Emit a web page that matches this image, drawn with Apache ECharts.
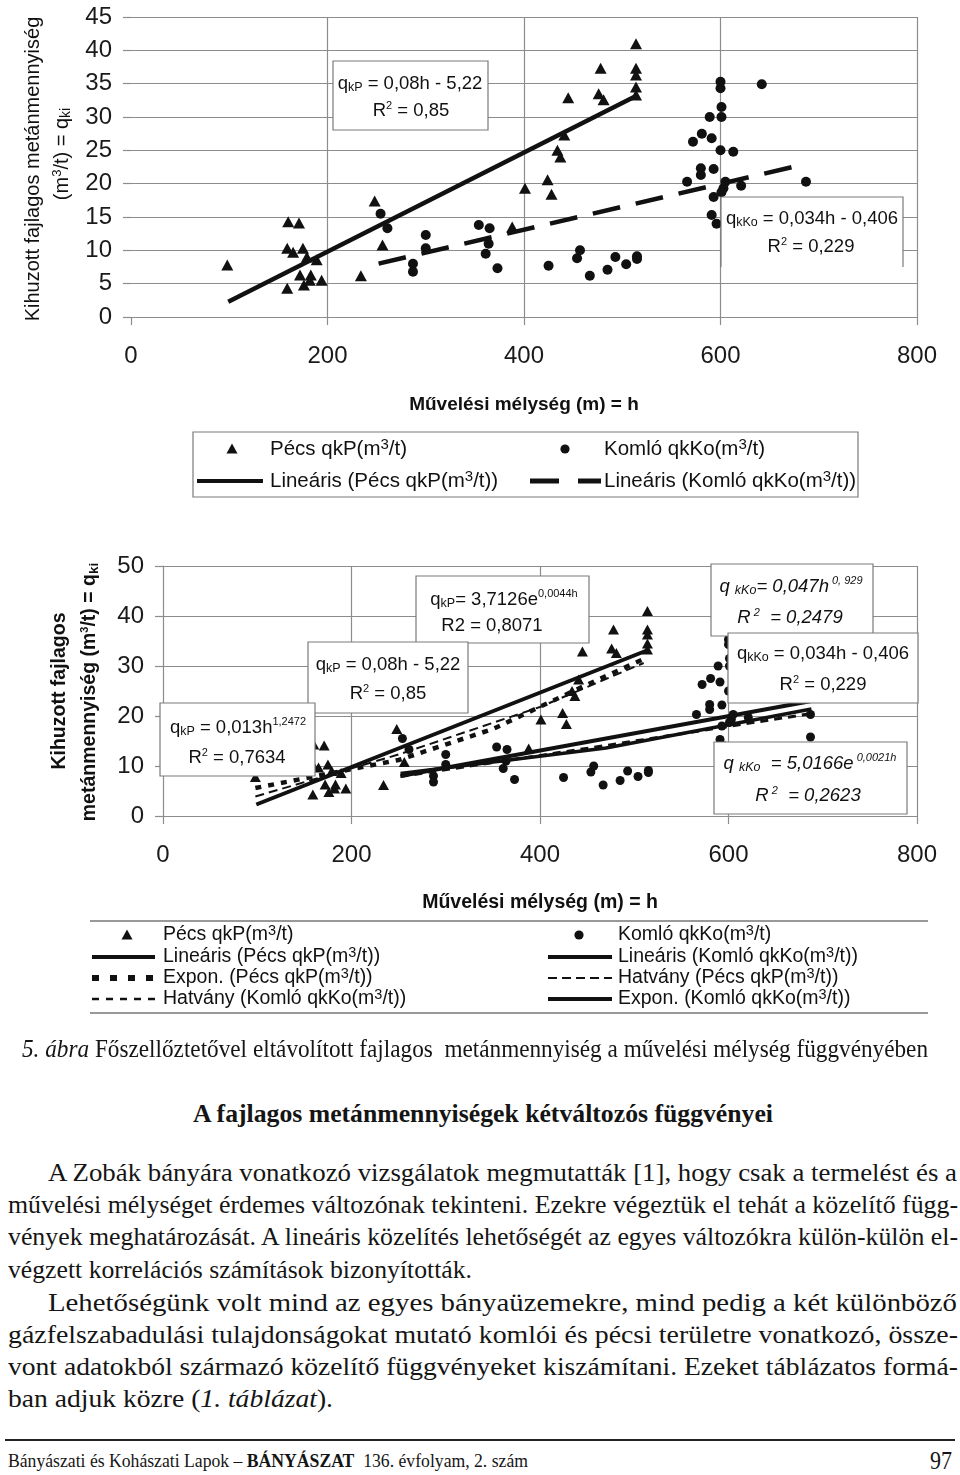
<!DOCTYPE html>
<html><head><meta charset="utf-8">
<script src="https://cdn.jsdelivr.net/npm/echarts@6/dist/echarts.min.js"></script>
<style>
html,body{margin:0;padding:0;background:#fff;}
#page{position:relative;width:960px;height:1475px;overflow:hidden;background:#fff;}
#chart{position:absolute;left:0;top:0;width:960px;height:1040px;}
.fit{position:absolute;white-space:nowrap;font-family:"Liberation Serif","Times New Roman",serif;font-size:26px;line-height:32px;color:#151515;transform-origin:0 50%;}
</style></head>
<body>
<div id="page">
<div id="chart"></div>
<div class="fit" data-w="906" style="left:22px;top:1033px;font-size:25px;"><i>5. ábra</i> Főszellőztetővel eltávolított fajlagos&nbsp; metánmennyiség a művelési mélység függvényében</div>
<div class="fit" data-w="580" style="left:193px;top:1098px;font-weight:bold;">A fajlagos metánmennyiségek kétváltozós függvényei</div>
<div class="fit" data-w="909" style="left:48px;top:1157px;">A Zobák bányára vonatkozó vizsgálatok megmutatták [1], hogy csak a termelést és a</div>
<div class="fit" data-w="950" style="left:8px;top:1189px;">művelési mélységet érdemes változónak tekinteni. Ezekre végeztük el tehát a közelítő függ-</div>
<div class="fit" data-w="950" style="left:8px;top:1221px;">vények meghatározását. A lineáris közelítés lehetőségét az egyes változókra külön-külön el-</div>
<div class="fit" data-w="464" style="left:8px;top:1254px;">végzett korrelációs számítások bizonyították.</div>
<div class="fit" data-w="909" style="left:48px;top:1287px;">Lehetőségünk volt mind az egyes bányaüzemekre, mind pedig a két különböző</div>
<div class="fit" data-w="950" style="left:8px;top:1319px;">gázfelszabadulási tulajdonságokat mutató komlói és pécsi területre vonatkozó, össze-</div>
<div class="fit" data-w="950" style="left:8px;top:1351px;">vont adatokból származó közelítő függvényeket kiszámítani. Ezeket táblázatos formá-</div>
<div class="fit" data-w="325" style="left:8px;top:1383px;">ban adjuk közre (<i>1. táblázat</i>).</div>
<div style="position:absolute;left:5px;top:1439px;width:950px;height:2px;background:#222;"></div>
<div class="fit" data-w="520" style="left:8px;top:1445px;font-size:19px;">Bányászati és Kohászati Lapok – <b>BÁNYÁSZAT</b>&nbsp; 136. évfolyam, 2. szám</div>
<div class="fit" data-w="22" style="left:930px;top:1445px;font-size:25px;">97</div>
</div>
<script>
// ---------------- data ----------------
const xTicks = [0, 200, 400, 600, 800];
const yTicks1 = [0, 5, 10, 15, 20, 25, 30, 35, 40, 45];
const yTicks2 = [0, 10, 20, 30, 40, 50];

// Pécs qkP (m3/t) : [h, q]
const pecsPoints = [
  [98, 7.8], [160, 14.3], [171, 14.1], [159, 10.3], [165, 9.7], [175, 10.3], [179, 9.0],
  [189, 8.6], [172, 6.3], [183, 6.3], [176, 4.8], [182, 5.5], [194, 5.5], [159, 4.3],
  [234, 6.2], [248, 17.4], [256, 10.8], [388, 13.5], [401, 19.3], [424, 20.6], [428, 18.4],
  [434, 25.0], [437, 24.0], [441, 27.3], [445, 32.9], [476, 33.5], [478, 37.3], [481, 32.6],
  [514, 41.0], [514, 37.3], [514, 36.3], [514, 34.5], [514, 33.3]
];
// Komló qkKo (m3/t) : [h, q]
const komloPoints = [
  [254, 15.5], [261, 13.3], [287, 8.0], [287, 6.8], [300, 12.3], [300, 10.3], [354, 13.8],
  [365, 13.3], [364, 11.0], [361, 9.5], [373, 7.3], [425, 7.7], [457, 10.0], [454, 8.8],
  [467, 6.2], [485, 7.1], [493, 9.0], [504, 7.9], [515, 9.1], [515, 8.7], [566, 20.3],
  [572, 26.3], [581, 27.5], [591, 26.8], [589, 30.0], [580, 22.3], [580, 21.3], [593, 22.2],
  [593, 18.0], [591, 15.3], [596, 14.0], [600, 35.3], [600, 34.3], [642, 34.9], [601, 31.5],
  [601, 30.0], [600, 25.0], [613, 24.8], [605, 20.3], [621, 19.7], [687, 20.3], [603, 19.3],
  [601, 18.7], [687, 15.8]
];
const pecsLinear = [[99, 2.3], [512, 33.0]];
const komloLinear = [[252, 8.0], [688, 23.0]];
const pecsExpon = [[98, 5.6], [250, 11.2], [350, 17.4], [440, 25.4], [510, 31.4]];
const pecsPower = [[98, 3.9], [250, 12.3], [400, 21.8], [510, 30.6]];
const komloExpon = [[252, 8.5], [470, 13.6], [688, 21.4]];
const komloPower = [[252, 7.9], [470, 14.1], [688, 20.5]];

// ---------------- styles ----------------
const F = '"Liberation Sans", Arial, Helvetica, sans-serif';
const INK = '#111';
const GRID = '#8c8c8c';
function tok(o){ return Object.assign({fontFamily:F, fill:INK, color:INK}, o); }
const R = {
  n: tok({fontSize:18.5}),
  s: tok({fontSize:12.5, padding:[8,0,0,0]}),
  p: tok({fontSize:11, padding:[0,0,10,0]}),
  e: tok({fontSize:11, padding:[0,0,13,0]}),
  ni: tok({fontSize:18.5, fontStyle:'italic'}),
  si: tok({fontSize:12.5, fontStyle:'italic', padding:[8,0,0,0]}),
  pi: tok({fontSize:11, fontStyle:'italic', padding:[0,0,10,0]}),
  ei: tok({fontSize:11, fontStyle:'italic', padding:[0,0,13,0]}),
  l: tok({fontSize:20.5}),
  lp: tok({fontSize:15, padding:[0,0,9,0]}),
  m: tok({fontSize:20}),
  mp: tok({fontSize:13, padding:[0,0,9,0]}),
  ms: tok({fontSize:14, padding:[8,0,0,0]}),
  t: tok({fontSize:19.5}),
  tp: tok({fontSize:14.5, padding:[0,0,9,0]}),
  b: tok({fontSize:19.5, fontWeight:'bold'}),
  bp: tok({fontSize:11, fontWeight:'bold', padding:[0,0,11,0]}),
  bs: tok({fontSize:13.5, fontWeight:'bold', padding:[8,0,0,0]})
};
function T(x, y, text, align, extra){
  return Object.assign({type:'text', x:x, y:y, z:110, silent:true,
    style:{text:text, rich:R, fill:INK, font:'18px ' + F,
      align:align||'center', textAlign:align||'center', verticalAlign:'middle', textVerticalAlign:'middle'}}, extra||{});
}
function box(x, y, w, h){
  return {type:'rect', z:105, silent:true, shape:{x:x, y:y, width:w, height:h},
    style:{fill:'#fff', stroke:'#7a7a7a', lineWidth:1.2}};
}
function seg(x1, y1, x2, y2, w, dash, color){
  return {type:'line', z:110, silent:true, shape:{x1:x1, y1:y1, x2:x2, y2:y2},
    style:{stroke:color||INK, lineWidth:w, lineDash:dash||null}};
}
function tri(cx, cy){
  return {type:'polygon', z:110, silent:true, shape:{points:[[cx, cy-5.5],[cx-5.5, cy+4.5],[cx+5.5, cy+4.5]]}, style:{fill:INK}};
}
function dot(cx, cy){
  return {type:'circle', z:110, silent:true, shape:{cx:cx, cy:cy, r:4.6}, style:{fill:INK}};
}

function xAxis(gi, gap, nameSize){
  return {type:'value', gridIndex:gi, min:xTicks[0], max:xTicks[xTicks.length-1], interval:xTicks[1]-xTicks[0],
    axisLine:{show:true, onZero:false, lineStyle:{color:GRID, width:1.2}},
    axisTick:{show:true, inside:false, length:8, lineStyle:{color:GRID, width:1.2}},
    splitLine:{show:true, lineStyle:{color:['rgba(0,0,0,0)', GRID, GRID, GRID, GRID], width:1.2}},
    axisLabel:{fontSize:24, color:'#1a1a1a', fontFamily:F, margin:27},
    name:'Művelési mélység (m) = h', nameLocation:'middle', nameGap:gap,
    nameTextStyle:{fontFamily:F, fontWeight:'bold', fontSize:nameSize, color:INK}};
}
function yAxis(gi, ticks, showLine){
  return {type:'value', gridIndex:gi, min:ticks[0], max:ticks[ticks.length-1], interval:ticks[1]-ticks[0],
    axisLine:{show:showLine, lineStyle:{color:GRID, width:1.2}},
    axisTick:{show:true, inside:false, length:8, lineStyle:{color:GRID, width:1.2}},
    splitLine:{show:true, lineStyle:{color:GRID, width:1.2}},
    axisLabel:{fontSize:24, color:'#1a1a1a', fontFamily:F, margin:19}};
}
function scatter(name, data, gi, symbol, size){
  return {name:name, type:'scatter', xAxisIndex:gi, yAxisIndex:gi, data:data, symbol:symbol, symbolSize:size,
    itemStyle:{color:INK, opacity:1}, z:3, silent:true};
}
function trend(name, data, gi, width, dash){
  return {name:name, type:'line', xAxisIndex:gi, yAxisIndex:gi, data:data, showSymbol:false, symbol:'none',
    smooth:false, lineStyle:{color:INK, width:width, type:dash||'solid', cap:'butt'}, z:4, silent:true};
}

const graphic = [
  // chart 1 y title
  T(33, 169, '{m|Kihuzott fajlagos metánmennyiség}', 'center', {rotation:Math.PI/2}),
  T(62, 154, '{m|(m}{mp|3}{m|/t) = q}{ms|ki}', 'center', {rotation:Math.PI/2}),
  // chart 1 equation boxes
  box(333, 61, 155, 69),
  T(410, 84, '{n|q}{s|kP}{n| = 0,08h - 5,22}'),
  T(411, 111, '{n|R}{p|2}{n| = 0,85}'),
  {type:'rect', z:104, silent:true, shape:{x:721, y:197, width:182, height:70}, style:{fill:'#fff', stroke:null}},
  {type:'polyline', z:105, silent:true, shape:{points:[[721,267],[721,197],[903,197],[903,267]]}, style:{stroke:'#7a7a7a', lineWidth:1.2, fill:null}},
  T(812, 219, '{n|q}{s|kKo}{n| = 0,034h - 0,406}'),
  T(811, 247, '{n|R}{p|2}{n| = 0,229}'),
  // legend 1
  box(193, 432, 665, 65),
  tri(232, 449), T(270, 449, '{l|Pécs qkP(m}{lp|3}{l|/t)}', 'left'),
  dot(565, 449), T(604, 449, '{l|Komló qkKo(m}{lp|3}{l|/t)}', 'left'),
  seg(197, 481, 263, 481, 4),
  T(270, 481, '{l|Lineáris (Pécs qkP(m}{lp|3}{l|/t))}', 'left'),
  seg(530, 481, 559, 481, 5), seg(578, 481, 601, 481, 5),
  T(604, 481, '{l|Lineáris (Komló qkKo(m}{lp|3}{l|/t))}', 'left'),

  // chart 2 y title
  T(60, 691, '{b|Kihuzott fajlagos}', 'center', {rotation:Math.PI/2}),
  T(90, 692, '{b|metánmennyiség (m}{bp|3}{b|/t) = q}{bs|ki}', 'center', {rotation:Math.PI/2}),
  // chart 2 equation boxes
  box(416, 576, 173, 67),
  T(504, 600, '{n|q}{s|kP}{n|= 3,7126e}{e|0,0044h}'),
  T(492, 626, '{n|R2 = 0,8071}'),
  box(308, 642, 160, 71),
  T(388, 665, '{n|q}{s|kP}{n| = 0,08h - 5,22}'),
  T(388, 694, '{n|R}{p|2}{n| = 0,85}'),
  box(160, 703, 155, 73),
  T(238, 728, '{n|q}{s|kP}{n| = 0,013h}{e|1,2472}'),
  T(237, 758, '{n|R}{p|2}{n| = 0,7634}'),
  box(711, 564, 162, 72),
  T(791, 587, '{ni|q }{si|kKo}{ni|= 0,047h}{ei| 0, 929}'),
  T(790, 618, '{ni|R}{pi| 2}{ni|  = 0,2479}'),
  box(728, 633, 190, 70),
  T(823, 654, '{n|q}{s|kKo}{n| = 0,034h - 0,406}'),
  T(823, 685, '{n|R}{p|2}{n| = 0,229}'),
  box(714, 742, 193, 72),
  T(810, 764, '{ni|q }{si|kKo}{ni|  = 5,0166e}{ei| 0,0021h}'),
  T(808, 796, '{ni|R}{pi| 2}{ni|  = 0,2623}'),
  // legend 2
  seg(90, 921, 928, 921, 1.5, null, '#777'),
  seg(90, 1013, 928, 1013, 1.5, null, '#777'),
  tri(127, 935), T(163, 935, '{t|Pécs qkP(m}{tp|3}{t|/t)}', 'left'),
  dot(579, 935), T(618, 935, '{t|Komló qkKo(m}{tp|3}{t|/t)}', 'left'),
  seg(92, 957, 155, 957, 4), T(163, 957, '{t|Lineáris (Pécs qkP(m}{tp|3}{t|/t))}', 'left'),
  seg(548, 957, 612, 957, 4), T(618, 957, '{t|Lineáris (Komló qkKo(m}{tp|3}{t|/t))}', 'left'),
  seg(92, 978, 155, 978, 6, [7, 11]), T(163, 978, '{t|Expon. (Pécs qkP(m}{tp|3}{t|/t))}', 'left'),
  seg(548, 978, 612, 978, 1.8, [9, 5]), T(618, 978, '{t|Hatvány (Pécs qkP(m}{tp|3}{t|/t))}', 'left'),
  seg(92, 999, 155, 999, 2.5, [7, 7]), T(163, 999, '{t|Hatvány (Komló qkKo(m}{tp|3}{t|/t))}', 'left'),
  seg(548, 999, 612, 999, 4), T(618, 999, '{t|Expon. (Komló qkKo(m}{tp|3}{t|/t))}', 'left')
];

const option = {
  animation:false,
  backgroundColor:'#fff',
  grid:[
    {left:131, top:17, width:786, height:300, containLabel:false},
    {left:163, top:566, width:754, height:250, containLabel:false}
  ],
  xAxis:[xAxis(0, 78, 19), xAxis(1, 77, 19.5)],
  yAxis:[yAxis(0, yTicks1, false), yAxis(1, yTicks2, true)],
  series:[
    scatter('Pécs qkP(m3/t)', pecsPoints, 0, 'triangle', [12, 11]),
    scatter('Komló qkKo(m3/t)', komloPoints, 0, 'circle', 10),
    trend('Lineáris (Pécs qkP(m3/t))', pecsLinear, 0, 4.5),
    trend('Lineáris (Komló qkKo(m3/t))', komloLinear, 0, 4.5, [28, 16]),
    scatter('Pécs qkP(m3/t) ', pecsPoints, 1, 'triangle', [11, 10]),
    scatter('Komló qkKo(m3/t) ', komloPoints, 1, 'circle', 9),
    trend('Lineáris (Pécs qkP(m3/t)) ', pecsLinear, 1, 4),
    trend('Expon. (Pécs qkP(m3/t))', pecsExpon, 1, 4.5, [6, 7]),
    trend('Hatvány (Pécs qkP(m3/t))', pecsPower, 1, 2, [9, 5]),
    trend('Lineáris (Komló qkKo(m3/t)) ', komloLinear, 1, 4),
    trend('Expon. (Komló qkKo(m3/t))', komloExpon, 1, 3.5),
    trend('Hatvány (Komló qkKo(m3/t))', komloPower, 1, 3, [8, 6])
  ],
  graphic:graphic
};
const chart = echarts.init(document.getElementById('chart'), null, {renderer:'canvas'});
chart.setOption(option);

// fit each text line of the page to its measured width in the reference
document.querySelectorAll('.fit').forEach(function(el){
  const w = el.getBoundingClientRect().width;
  const target = parseFloat(el.dataset.w);
  if (w > 0) el.style.transform = 'scaleX(' + (target / w).toFixed(4) + ')';
});
</script>
</body></html>
